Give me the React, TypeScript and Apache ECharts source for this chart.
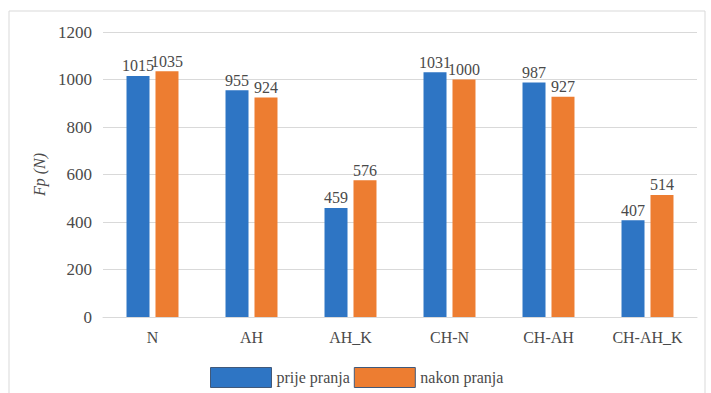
import React, { useEffect, useRef } from "react";
import * as echarts from "echarts";

const categories = ["N", "AH", "AH_K", "CH-N", "CH-AH", "CH-AH_K"];
const prijePranja = [1015, 955, 459, 1031, 987, 407];
const nakonPranja = [1035, 924, 576, 1000, 927, 514];
const seriesNames = ["prije pranja", "nakon pranja"];

const FONT = "Liberation Serif";
const TXT = "#4a4a4a";

export default function App() {
  const ref = useRef<HTMLDivElement>(null);
  useEffect(() => {
    document.body.style.margin = "0";
    const chart = echarts.init(ref.current!, null, { renderer: "svg" });
    const label = {
      show: true,
      position: "top" as const,
      distance: 2,
      fontFamily: FONT,
      fontSize: 16,
      color: TXT,
    };
    chart.setOption({
      animation: false,
      backgroundColor: "#ffffff",
      textStyle: { fontFamily: FONT },
      graphic: [
        {
          type: "rect",
          shape: { x: 9, y: 11, width: 696, height: 395 },
          style: { fill: "none", stroke: "#d9d9d9", lineWidth: 1 },
          silent: true,
        },
      ],
      grid: { left: 103, right: 14, top: 32, bottom: 76 },
      legend: {
        data: seriesNames,
        left: 205,
        top: 362,
        icon: "rect",
        itemWidth: 61,
        itemHeight: 20,
        itemGap: 4,
        textStyle: { fontFamily: FONT, fontSize: 16, color: TXT },
        itemStyle: { borderColor: "#41597a", borderWidth: 1 },
      },
      xAxis: {
        type: "category",
        data: categories,
        axisLine: { lineStyle: { color: "#d9d9d9" } },
        axisTick: { show: false },
        axisLabel: { fontFamily: FONT, fontSize: 16, color: TXT, margin: 12 },
      },
      yAxis: {
        type: "value",
        min: 0,
        max: 1200,
        interval: 200,
        name: "Fp (N)",
        nameLocation: "middle",
        nameGap: 52,
        nameTextStyle: { fontFamily: FONT, fontSize: 16, fontStyle: "italic", color: TXT },
        axisLine: { show: false },
        axisTick: { show: false },
        axisLabel: {
          fontFamily: FONT,
          fontSize: 17,
          color: TXT,
          margin: 11,
          formatter: (v: number) => String(v),
        },
        splitLine: { lineStyle: { color: "#d9d9d9" } },
      },
      series: [
        {
          name: seriesNames[0],
          type: "bar",
          data: prijePranja,
          barWidth: 23,
          barGap: "26%",
          itemStyle: { color: "#2e75c4" },
          label,
        },
        {
          name: seriesNames[1],
          type: "bar",
          data: nakonPranja,
          barWidth: 23,
          itemStyle: { color: "#ed7d31" },
          label,
        },
      ],
    });
    return () => chart.dispose();
  }, []);
  return <div ref={ref} style={{ width: 711, height: 393 }} />;
}
